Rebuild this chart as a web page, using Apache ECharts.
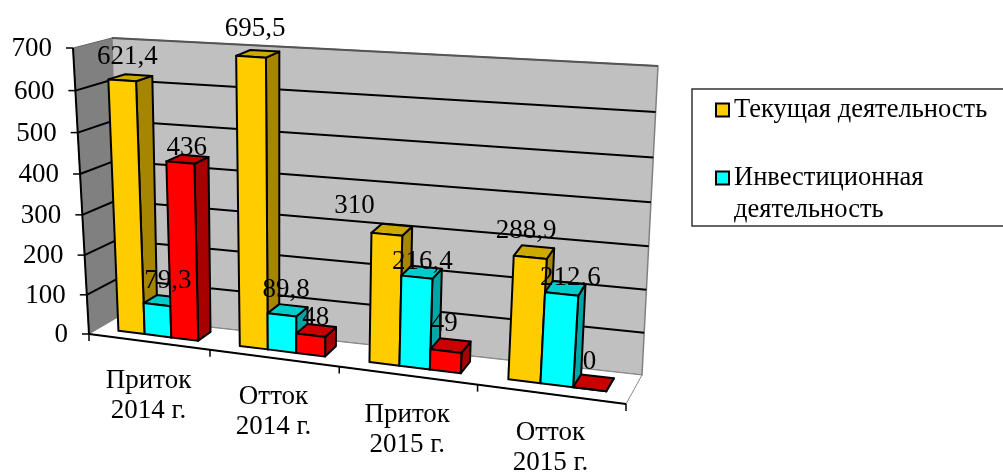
<!DOCTYPE html>
<html>
<head>
<meta charset="utf-8">
<title>chart</title>
<style>
html,body{margin:0;padding:0;background:#fff;overflow:hidden;}
#main{width:1003px;height:472px;}
</style>
<script src="https://cdn.jsdelivr.net/npm/echarts@6/dist/echarts.min.js"></script>
</head>
<body>
<div id="main"></div>
<script>
// data
var categories = ['Приток\n2014 г.', 'Отток\n2014 г.', 'Приток\n2015 г.', 'Отток\n2015 г.'];
var currentActivity = [621.4, 695.5, 310, 288.9];
var investActivity = [79.3, 89.8, 216.4, 212.6];
var financeActivity = [436, 48, 49, 0];
var yTicks = [0, 100, 200, 300, 400, 500, 600, 700];

// label nudges from the bar top (dx, dy), one per bar
var labelNudges = [
    [[-1, -21], [6, -21], [1, -12]],
    [[-1, -26], [0, -22], [1, -14]],
    [[-36, -25], [2, -12], [-5, -23]],
    [[-7, -23], [6, -12], [-3, -23]]
];

var FONT = '"Liberation Serif", "Times New Roman", serif';

// box corners on screen: floor and top, front and back
var FLB = [89, 334], FRB = [626, 404], BLB = [118, 317], BRB = [642, 375];
var FLT = [73, 48], FRT = [650, 86], BLT = [112, 38], BRT = [658, 66];
var persX = 1.146, persY = 1.05;
var barMargin = 0.17, barBand = 0.2217, depthFront = 0.33, depthBack = 0.79;

function mix(a, b, k) {
    return [a[0] + (b[0] - a[0]) * k, a[1] + (b[1] - a[1]) * k];
}

// t, v, d are 0..1 along categories, values and depth
function project(t, v, d) {
    var u = t / (t + persX * (1 - t));
    var h = v / (v + persY * (1 - v));
    var low = mix(mix(FLB, FRB, u), mix(BLB, BRB, u), d);
    var high = mix(mix(FLT, FRT, u), mix(BLT, BRT, u), d);
    return mix(low, high, h);
}

// grid pixel -> t, v
function toUnit(params, pt) {
    var c = params.coordSys;
    return [(pt[0] - c.x) / c.width, (c.y + c.height - pt[1]) / c.height];
}

function poly(points, fill, stroke, width) {
    return {
        type: 'polygon',
        shape: { points: points },
        style: { fill: fill, stroke: stroke, lineWidth: width, lineJoin: 'round' },
        silent: true
    };
}

function line(a, b, color, width) {
    return {
        type: 'line',
        shape: { x1: a[0], y1: a[1], x2: b[0], y2: b[1] },
        style: { stroke: color, lineWidth: width },
        silent: true
    };
}

function label(text, x, y, align) {
    return {
        type: 'text',
        silent: true,
        style: {
            text: text, x: x, y: y,
            fill: '#000',
            font: '27px ' + FONT,
            lineHeight: 30,
            align: align,
            verticalAlign: 'middle'
        }
    };
}

// walls, floor, grid lines and axis labels
function renderWalls(params, api) {
    var kids = [];
    kids.push(poly([FLB, BLB, BLT, FLT], '#808080', '#666', 1));
    kids.push(poly([BLB, BRB, BRT, BLT], '#c0c0c0', '#808080', 1.5));
    kids.push(poly([FLB, FRB, BRB, BLB], '#fff', '#888', 1));
    kids.push(line(BLT, BRT, '#555', 2));
    yTicks.forEach(function (tick) {
        var v = toUnit(params, api.coord([0, tick]))[1];
        var front = project(0, v, 0), back = project(0, v, 1), right = project(1, v, 1);
        if (tick > 0 && tick < 700) {
            kids.push(line(front, back, '#000', 2));
            kids.push(line(back, right, '#000', 2));
        }
        kids.push(line([front[0] - 7, front[1]], front, '#000', 1.5));
        kids.push(label(String(tick), front[0] - 21, front[1] + 1, 'right'));
    });
    kids.push(line(FLB, FLT, '#000', 2));
    kids.push(line(FLB, FRB, '#000', 2));
    var band = api.size([1, 0])[0];
    categories.forEach(function (name, i) {
        var mid = api.coord([i, 0]);
        var t0 = toUnit(params, [mid[0] - band / 2, mid[1]])[0];
        var t1 = toUnit(params, [mid[0] + band / 2, mid[1]])[0];
        var a = project(t0, 0, 0), b = project(t1, 0, 0);
        if (i === 0) kids.push(line(a, [a[0], a[1] + 7], '#000', 1.5));
        kids.push(line(b, [b[0], b[1] + 7], '#000', 1.5));
        var c = project((t0 + t1) / 2, 0, 0);
        kids.push(label(name, c[0], c[1] + 54, 'center'));
    });
    return { type: 'group', children: kids };
}

// one 3d bar: front, side and top faces
function makeBarRender(slot, front, side, top) {
    return function (params, api) {
        var pos = api.coord([api.value(0), api.value(1)]);
        var band = api.size([1, 0])[0];
        var left = pos[0] - band / 2 + band * (barMargin + barBand * slot);
        var right = left + band * barBand;
        var t0 = toUnit(params, [left, pos[1]])[0];
        var t1 = toUnit(params, [right, pos[1]])[0];
        var v = toUnit(params, pos)[1];
        var a = project(t0, 0, depthFront), b = project(t1, 0, depthFront);
        var c = project(t1, v, depthFront), e = project(t0, v, depthFront);
        var f = project(t1, 0, depthBack), g = project(t1, v, depthBack), h = project(t0, v, depthBack);
        return {
            type: 'group',
            children: [
                poly([b, f, g, c], side, '#000', 2),
                poly([e, c, g, h], top, '#000', 2),
                poly([a, b, c, e], front, '#000', 2)
            ]
        };
    };
}

// value labels go in their own series so they lie above every bar
function makeLabelRender(slot) {
    return function (params, api) {
        var cat = api.value(0);
        var val = api.value(1);
        var pos = api.coord([cat, val]);
        var band = api.size([1, 0])[0];
        var mid = pos[0] - band / 2 + band * (barMargin + barBand * (slot + 0.5));
        var t = toUnit(params, [mid, pos[1]])[0];
        var v = toUnit(params, pos)[1];
        var p = project(t, v, 0.5);
        var nudge = labelNudges[cat][slot];
        return label(String(val).replace('.', ','), p[0] + nudge[0], p[1] + nudge[1], 'center');
    };
}

function rows(values) {
    return values.map(function (val, i) { return [i, val]; });
}

function barSeries(name, values, slot, front, side, top) {
    return {
        name: name,
        type: 'custom',
        coordinateSystem: 'cartesian2d',
        clip: false,
        silent: true,
        z: 3,
        itemStyle: { color: front },
        data: rows(values),
        renderItem: makeBarRender(slot, front, side, top)
    };
}

function labelSeries(values, slot) {
    return {
        type: 'custom',
        coordinateSystem: 'cartesian2d',
        clip: false,
        silent: true,
        z: 5,
        data: rows(values),
        renderItem: makeLabelRender(slot)
    };
}

var myChart = echarts.init(document.getElementById('main'));
myChart.setOption({
    animation: false,
    backgroundColor: '#fff',
    grid: { left: 89, top: 48, width: 537, height: 286 },
    xAxis: { type: 'category', data: categories, show: false },
    yAxis: { type: 'value', min: 0, max: 700, interval: 100, show: false },
    legend: {
        left: 692,
        top: 89,
        orient: 'vertical',
        align: 'left',
        data: ['Текущая деятельность', 'Инвестиционная деятельность'],
        padding: [5, 60, 0, 23],
        itemGap: 4,
        itemWidth: 13,
        itemHeight: 13,
        icon: 'rect',
        borderColor: '#333',
        borderWidth: 1.5,
        itemStyle: { borderColor: '#000', borderWidth: 2 },
        selectedMode: false,
        // blank first line keeps the marker on the first row of the wrapped name
        formatter: function (name) {
            if (name === 'Инвестиционная деятельность') {
                return ' \nИнвестиционная\nдеятельность';
            }
            return name;
        },
        textStyle: { fontFamily: FONT, fontSize: 26.5, color: '#000', lineHeight: 32 }
    },
    series: [
        {
            type: 'custom',
            coordinateSystem: 'cartesian2d',
            clip: false,
            silent: true,
            z: 1,
            data: [[0, 0]],
            renderItem: renderWalls
        },
        barSeries('Текущая деятельность', currentActivity, 0, '#ffcc00', '#a68500', '#ccaa00'),
        barSeries('Инвестиционная деятельность', investActivity, 1, '#00ffff', '#00a6a6', '#00cccc'),
        barSeries('Финансовая деятельность', financeActivity, 2, '#ff0000', '#a60000', '#c80000'),
        labelSeries(currentActivity, 0),
        labelSeries(investActivity, 1),
        labelSeries(financeActivity, 2)
    ]
});
window.addEventListener('resize', function () {
    myChart.resize();
});
</script>
</body>
</html>
